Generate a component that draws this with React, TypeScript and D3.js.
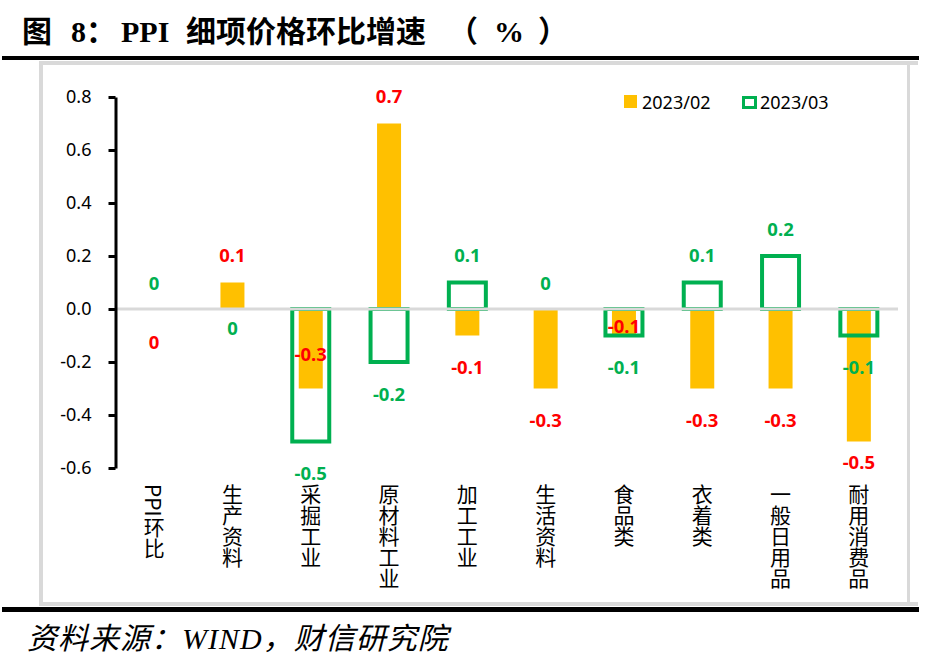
import React, { useEffect, useRef } from 'react';
import * as d3 from 'd3';

// categories and values
const categories = ['PPI环比', '生产资料', '采掘工业', '原材料工业', '加工工业', '生活资料', '食品类', '衣着类', '一般日用品', '耐用消费品'];
const feb = [0, 0.1, -0.3, 0.7, -0.1, -0.3, -0.1, -0.3, -0.3, -0.5];
const mar = [0, 0, -0.5, -0.2, 0.1, 0, -0.1, 0.1, 0.2, -0.1];
const yTicks = [-0.6, -0.4, -0.2, 0, 0.2, 0.4, 0.6, 0.8];
const seriesNames = ['2023/02', '2023/03'];

// label nudges (px) where labels were moved by hand in the original
const febLabelDy: (number | null)[] = [32, null, -35, null, null, null, -10, null, null, 20];
const marLabelDy: (number | null)[] = [-27, 18, null, null, null, -27, null, null, null, null];

const W = 929;
const H = 665;
const YELLOW = '#ffc000';
const GREEN = '#00b050';
const RED = '#ff0000';
const SANS = '"Noto Sans", "Noto Sans CJK SC", sans-serif';
const SERIF = '"Liberation Serif", "Noto Sans CJK SC", serif';

// plain hyphen, like the source chart
const fmt = (v: number) => (v === 0 ? '0' : v.toFixed(1));

// title pieces, spaced out like the original
const titleParts: [string, number][] = [
  ['图', 22], ['8', 71], ['：', 86], ['PPI', 121], ['细项价格环比增速', 186], ['（', 448], ['%', 494], ['）', 538],
];

const App: React.FC = () => {
  const ref = useRef<SVGSVGElement | null>(null);

  useEffect(() => {
    document.body.style.margin = '0';
    if (!ref.current) return;
    const svg = d3.select(ref.current);
    svg.selectAll('*').remove();

    const y = d3.scaleLinear().domain([-0.6, 0.8]).range([468, 97]);
    const x = d3.scaleBand<string>().domain(categories).range([115, 898]).padding(0);
    const cx = (c: string) => (x(c) as number) + x.bandwidth() / 2;

    // title + rules
    const title = svg.append('text')
      .attr('y', 42)
      .attr('font-family', SERIF).attr('font-weight', 'bold').attr('font-size', 30);
    titleParts.forEach(([t, px]) => title.append('tspan').attr('x', px).text(t));
    svg.append('rect').attr('x', 2).attr('y', 56).attr('width', 917).attr('height', 4).attr('fill', '#000');
    svg.append('rect').attr('x', 2).attr('y', 607).attr('width', 917).attr('height', 5).attr('fill', '#000');

    // chart frame
    const fr = svg.append('g').attr('fill', '#d9d9d9');
    fr.append('rect').attr('x', 39).attr('y', 61).attr('width', 879).attr('height', 4);
    fr.append('rect').attr('x', 39).attr('y', 602).attr('width', 879).attr('height', 4);
    fr.append('rect').attr('x', 39).attr('y', 61).attr('width', 4).attr('height', 545);
    fr.append('rect').attr('x', 907).attr('y', 61).attr('width', 3).attr('height', 545);

    // feb bars
    svg.append('g').selectAll('rect').data(feb).join('rect')
      .attr('x', (_, i) => cx(categories[i]) - 12)
      .attr('width', 24)
      .attr('y', (d) => y(Math.max(0, d)))
      .attr('height', (d) => Math.abs(y(d) - y(0)))
      .attr('fill', YELLOW);

    // mar outlined bars
    svg.append('g').selectAll('rect').data(mar).join('rect')
      .attr('x', (_, i) => cx(categories[i]) - 18.5)
      .attr('width', 37)
      .attr('y', (d) => y(Math.max(0, d)))
      .attr('height', (d) => Math.abs(y(d) - y(0)))
      .attr('fill', 'none')
      .attr('stroke', GREEN)
      .attr('stroke-width', 4);

    // zero line
    svg.append('line')
      .attr('x1', 115).attr('x2', 898).attr('y1', y(0)).attr('y2', y(0))
      .attr('stroke', '#d9d9d9').attr('stroke-width', 3);

    // y axis
    const axis = d3.axisLeft(y).tickValues(yTicks).tickSize(7).tickSizeOuter(0)
      .tickPadding(17)
      .tickFormat((d) => (d as number).toFixed(1));
    const ag = svg.append('g').attr('transform', 'translate(115.5,0)').call(axis);
    ag.select('.domain').attr('stroke', '#000').attr('stroke-width', 3);
    ag.selectAll('.tick line').attr('stroke', '#000').attr('stroke-width', 3);
    ag.selectAll('.tick text').attr('font-family', SANS).attr('font-size', 18).attr('fill', '#000');

    // data labels
    const labelY = (v: number, dy: number | null) =>
      y(v) + (dy !== null ? dy : v > 0 ? -28 : 31);
    svg.append('g').selectAll('text').data(feb).join('text')
      .attr('x', (_, i) => cx(categories[i]))
      .attr('y', (d, i) => labelY(d, febLabelDy[i]))
      .attr('text-anchor', 'middle').attr('dominant-baseline', 'central')
      .attr('font-family', SANS).attr('font-weight', 'bold').attr('font-size', 18.5)
      .attr('fill', RED)
      .text((d) => fmt(d));
    svg.append('g').selectAll('text').data(mar).join('text')
      .attr('x', (_, i) => cx(categories[i]))
      .attr('y', (d, i) => labelY(d, marLabelDy[i]))
      .attr('text-anchor', 'middle').attr('dominant-baseline', 'central')
      .attr('font-family', SANS).attr('font-weight', 'bold').attr('font-size', 18.5)
      .attr('fill', GREEN)
      .text((d) => fmt(d));

    // category labels, vertical
    svg.append('g').selectAll('text').data(categories).join('text')
      .attr('x', (d) => cx(d))
      .attr('y', 484)
      .style('writing-mode', 'vertical-rl')
      .attr('font-family', '"Noto Sans CJK SC", sans-serif').attr('font-size', 21)
      .attr('fill', '#000')
      .text((d) => d);

    // legend
    const lg = svg.append('g');
    lg.append('rect').attr('x', 624).attr('y', 95).attr('width', 13).attr('height', 13).attr('fill', YELLOW);
    lg.append('text').attr('x', 642).attr('y', 101.5).attr('dominant-baseline', 'central')
      .attr('font-family', SANS).attr('font-size', 18).text(seriesNames[0]);
    lg.append('rect').attr('x', 743.5).attr('y', 97.5).attr('width', 12).attr('height', 10)
      .attr('fill', '#fff').attr('stroke', GREEN).attr('stroke-width', 3);
    lg.append('text').attr('x', 760).attr('y', 101.5).attr('dominant-baseline', 'central')
      .attr('font-family', SANS).attr('font-size', 18).text(seriesNames[1]);

    // source
    svg.append('text')
      .attr('x', 27).attr('y', 649)
      .attr('font-family', SERIF).attr('font-style', 'italic').attr('font-size', 30)
      .attr('letter-spacing', 1)
      .text('资料来源：WIND，财信研究院');
  }, []);

  return (
    <svg ref={ref} width={W} height={H} style={{ position: 'absolute', left: 0, top: 0, background: '#fff' }} />
  );
};

export default App;
